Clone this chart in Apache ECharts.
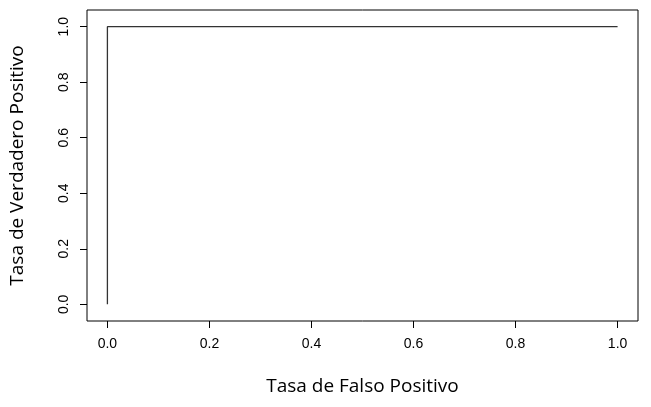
<!DOCTYPE html>
<html lang="en">
<head>
    <meta charset="UTF-8">
    <title>ROC</title>
    <script src="https://cdn.jsdelivr.net/npm/echarts@6/dist/echarts.min.js"></script>
</head>
<body style="margin:0">
    <div id="main" style="width:651px;height:407px;"></div>
    <script type="text/javascript">
        var fpr = [0, 0, 1];
        var tpr = [0, 1, 1];
        var ticks = [0, 0.2, 0.4, 0.6, 0.8, 1.0];
        var tickLabels = ['0.0', '0.2', '0.4', '0.6', '0.8', '1.0'];

        var myChart = echarts.init(document.getElementById('main'));
        var lbl = function (v) { return tickLabels[ticks.indexOf(Math.round(v * 10) / 10)]; };
        var option = {
            animation: false,
            grid: { left: 86, right: 13, top: 10, bottom: 86, show: true, borderColor: '#000', borderWidth: 1 },
            xAxis: {
                type: 'value', min: -0.04, max: 1.04,
                name: 'Tasa de Falso Positivo', nameLocation: 'middle', nameGap: 56,
                nameTextStyle: { fontFamily: 'Open Sans', fontSize: 19, color: '#000' },
                axisLine: { show: false, onZero: false },
                splitLine: { show: false },
                axisTick: { show: true, length: 7, inside: false, customValues: ticks, lineStyle: { color: '#000' } },
                axisLabel: { customValues: ticks, formatter: lbl, margin: 16, fontFamily: 'Liberation Sans', fontSize: 14, color: '#000' }
            },
            yAxis: {
                type: 'value', min: -0.06, max: 1.06,
                name: 'Tasa de Verdadero Positivo', nameLocation: 'middle', nameGap: 60,
                nameTextStyle: { fontFamily: 'Open Sans', fontSize: 19, color: '#000' },
                axisLine: { show: false, onZero: false },
                splitLine: { show: false },
                axisTick: { show: true, length: 7, inside: false, customValues: ticks, lineStyle: { color: '#000' } },
                axisLabel: { customValues: ticks, formatter: lbl, rotate: 90, margin: 16, fontFamily: 'Liberation Sans', fontSize: 14, color: '#000' }
            },
            series: [{
                type: 'line',
                data: fpr.map(function (x, i) { return [x, tpr[i]]; }),
                symbol: 'none',
                lineStyle: { color: '#333', width: 1.3 }
            }]
        };
        myChart.setOption(option);
    </script>
</body>
</html>
